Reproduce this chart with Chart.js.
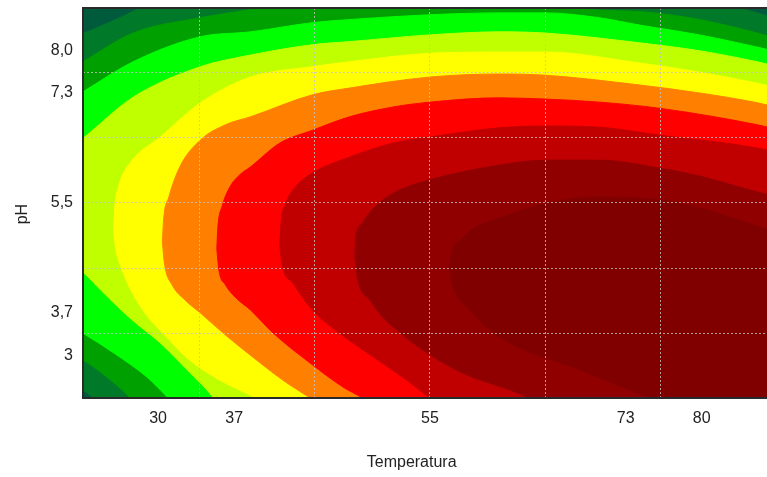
<!DOCTYPE html>
<html lang="pt-BR">
<head>
<meta charset="utf-8">
<title>Temperatura x pH</title>
<script src="https://cdn.jsdelivr.net/npm/chart.js@4.4.1/dist/chart.umd.min.js"></script>
<style>
  html, body { margin: 0; padding: 0; background: #fff; }
  canvas { display: block; }
</style>
</head>
<body>
<canvas id="graficoContorno" width="767" height="477"></canvas>
<script>
// === Superfície de resposta: Temperatura x pH (curvas de nível) ===

// Marcas dos eixos
const ticksTemperatura = [30, 37, 55, 73, 80];
const ticksPH = [3, 3.7, 5.5, 7.3, 8.0];
const rotulosPH = ['3', '3,7', '5,5', '7,3', '8,0'];

// Linhas de grade pontilhadas
const gradeTemperatura = [33.8, 44.4, 55, 65.6, 76.2];
const gradePH = [3.36, 4.43, 5.5, 6.57, 7.64];

// Limites dos eixos
const limitesTemperatura = [23.1, 86.0];
const limitesPH = [2.31, 8.69];

// Contornos: pares [Temperatura, pH]
// Sup = borda de cima da região do nível, Inf = borda de baixo
const nivel1Sup = [[21.9, 8.17], [23.1, 8.27], [25.6, 8.46], [28.3, 8.69], [31.1, 8.99], [55.0, 9.48], [79.8, 8.99], [83.5, 8.69], [85.1, 8.61], [86.3, 8.54]];
const nivel1Inf = [[21.9, 2.52], [23.1, 2.44], [24.0, 2.31], [25.6, 1.95], [86.3, 1.62]];

const nivel2Sup = [[21.9, 7.68], [23.1, 7.81], [27.7, 8.28], [33.9, 8.53], [39.4, 8.69], [43.1, 8.82], [55.0, 9.15], [67.0, 8.82], [68.8, 8.69], [74.3, 8.63], [79.8, 8.50], [85.1, 8.28], [86.3, 8.22]];
const nivel2Inf = [[21.9, 3.01], [23.1, 2.93], [25.3, 2.65], [27.4, 2.32], [28.3, 2.11], [86.3, 1.62]];

const nivel3Sup = [[21.9, 7.19], [23.1, 7.32], [27.7, 7.81], [33.9, 8.22], [38.5, 8.30], [44.2, 8.45], [47.6, 8.50], [55.0, 8.58], [61.4, 8.61], [65.6, 8.61], [70.6, 8.53], [74.3, 8.41], [79.8, 8.25], [85.1, 8.05], [86.3, 8.00]];
const nivel3Inf = [[21.9, 3.50], [23.1, 3.37], [25.9, 3.05], [29.0, 2.65], [30.5, 2.39], [31.1, 2.28], [33.9, 1.95], [86.3, 1.62]];

const nivel4Sup = [[21.9, 6.40], [23.1, 6.56], [27.7, 7.23], [33.9, 7.73], [38.5, 7.92], [44.2, 8.09], [47.6, 8.14], [55.0, 8.25], [61.4, 8.30], [65.6, 8.28], [74.3, 8.12], [79.8, 7.99], [85.1, 7.81], [86.3, 7.76]];
const nivel4Inf = [[21.9, 4.53], [23.1, 4.37], [24.7, 4.08], [27.4, 3.62], [30.2, 3.21], [32.9, 2.73], [34.5, 2.44], [35.1, 2.31], [36.6, 2.03], [86.3, 1.62]];

const nivel5Sup = [[25.9, 5.05], [26.0, 5.40], [26.4, 5.79], [27.4, 6.15], [30.2, 6.58], [33.9, 7.14], [38.5, 7.56], [44.2, 7.73], [47.6, 7.81], [55.0, 7.95], [61.4, 7.97], [65.6, 7.97], [74.3, 7.79], [79.8, 7.64], [85.1, 7.46], [86.3, 7.41]];
const nivel5Inf = [[25.9, 5.05], [26.1, 4.75], [26.6, 4.45], [27.4, 4.11], [28.8, 3.70], [30.6, 3.34], [32.9, 2.93], [35.7, 2.60], [39.0, 2.31], [41.2, 2.08], [86.3, 1.62]];

const nivel6Sup = [[30.4, 4.85], [30.5, 5.20], [31.0, 5.60], [32.0, 6.09], [33.9, 6.53], [36.2, 6.78], [38.5, 6.91], [44.2, 7.27], [47.6, 7.38], [55.0, 7.56], [61.4, 7.61], [65.6, 7.59], [74.3, 7.43], [79.8, 7.30], [85.1, 7.14], [86.3, 7.09]];
const nivel6Inf = [[30.4, 4.85], [30.6, 4.50], [31.3, 4.16], [32.5, 3.91], [33.9, 3.70], [36.2, 3.34], [38.5, 3.01], [41.5, 2.60], [44.0, 2.31], [45.8, 2.11], [86.3, 1.62]];

const nivel7Sup = [[35.4, 4.75], [35.5, 5.10], [35.9, 5.45], [36.6, 5.76], [37.5, 5.96], [38.5, 6.09], [41.2, 6.48], [44.2, 6.69], [47.6, 6.91], [51.6, 7.07], [55.0, 7.15], [61.4, 7.22], [65.6, 7.20], [70.6, 7.15], [76.1, 7.05], [85.1, 6.78], [86.3, 6.73]];
const nivel7Inf = [[35.4, 4.75], [35.6, 4.40], [36.2, 4.16], [37.1, 3.96], [38.5, 3.75], [40.6, 3.37], [44.0, 2.88], [47.0, 2.49], [48.8, 2.31], [50.4, 2.11], [86.3, 1.62]];

const nivel8Sup = [[41.2, 4.80], [41.3, 5.15], [41.7, 5.47], [42.4, 5.71], [44.2, 5.99], [47.6, 6.25], [51.6, 6.48], [55.0, 6.58], [61.4, 6.73], [65.6, 6.76], [70.6, 6.74], [76.1, 6.61], [85.1, 6.40], [86.3, 6.35]];
const nivel8Inf = [[41.2, 4.80], [41.4, 4.50], [42.4, 4.19], [44.2, 3.75], [46.7, 3.37], [49.8, 2.98], [52.9, 2.60], [55.0, 2.31], [56.8, 2.11], [86.3, 1.62]];

const nivel9Sup = [[48.1, 4.65], [48.2, 4.95], [48.7, 5.15], [49.5, 5.35], [50.7, 5.55], [52.2, 5.71], [55.0, 5.88], [61.4, 6.12], [65.6, 6.20], [70.6, 6.20], [76.1, 6.07], [79.8, 5.94], [85.1, 5.68], [86.3, 5.63]];
const nivel9Inf = [[48.1, 4.65], [48.3, 4.32], [49.5, 3.91], [50.7, 3.63], [52.2, 3.39], [54.4, 3.09], [58.0, 2.72], [62.4, 2.44], [64.2, 2.31], [67.0, 2.11], [86.3, 1.62]];

const nivel10Sup = [[56.8, 4.45], [57.0, 4.70], [57.8, 4.89], [59.1, 5.09], [61.4, 5.25], [65.4, 5.48], [70.6, 5.60], [76.1, 5.55], [79.8, 5.42], [85.1, 5.12], [86.3, 5.06]];
const nivel10Inf = [[56.8, 4.45], [57.1, 4.16], [58.4, 3.80], [61.4, 3.31], [68.8, 2.77], [75.2, 2.31], [78.0, 2.11], [86.3, 1.62]];

// Cores: fundo (nível mais baixo) até o nível mais alto
const cores = ['#005a3c', '#007a28', '#00a000', '#00ff00', '#bfff00', '#ffff00',
               '#ff8000', '#ff0000', '#c00000', '#900000', '#800000'];

const contornos = [
  [nivel1Sup, nivel1Inf], [nivel2Sup, nivel2Inf], [nivel3Sup, nivel3Inf],
  [nivel4Sup, nivel4Inf], [nivel5Sup, nivel5Inf], [nivel6Sup, nivel6Inf],
  [nivel7Sup, nivel7Inf], [nivel8Sup, nivel8Inf], [nivel9Sup, nivel9Inf],
  [nivel10Sup, nivel10Inf]
];

const paraPontos = (lista) => lista.map(([x, y]) => ({ x, y }));

// Cada nível: borda de cima preenchida até a borda de baixo (+1)
const datasets = [];
contornos.forEach(([sup, inf], i) => {
  const cor = cores[i + 1];
  const base = {
    borderColor: cor,
    backgroundColor: cor,
    borderWidth: 1,
    pointRadius: 0,
    showLine: true,
    clip: 0,
    cubicInterpolationMode: 'monotone',
    order: 20 - i
  };
  datasets.push({ ...base, data: paraPontos(sup), fill: '+1' });
  datasets.push({ ...base, data: paraPontos(inf), fill: false });
});

const fonte = { family: "'Liberation Sans', Arial, sans-serif", size: 16 };
const corTexto = '#222';
const corGrade = 'rgba(195, 195, 195, 0.8)';

// fundo da área do gráfico e moldura (sem a borda direita, cortada no original)
const moldura = {
  id: 'moldura',
  beforeDatasetsDraw(chart) {
    const { ctx, chartArea: a } = chart;
    ctx.save();
    ctx.fillStyle = cores[0];
    ctx.fillRect(a.left, a.top, a.right - a.left, a.bottom - a.top);
    ctx.restore();
  },
  afterDraw(chart) {
    const { ctx, chartArea: a } = chart;
    ctx.save();
    ctx.strokeStyle = '#2a2a2a';
    ctx.lineWidth = 2;
    ctx.beginPath();
    ctx.moveTo(a.right, a.top);
    ctx.lineTo(a.left, a.top);
    ctx.lineTo(a.left, a.bottom);
    ctx.lineTo(a.right, a.bottom);
    ctx.stroke();
    ctx.restore();
  }
};

const config = {
  type: 'scatter',
  data: { datasets },
  options: {
    responsive: false,
    animation: false,
    events: [],
    layout: { padding: { top: 8, right: 0, bottom: 0, left: 0 } },
    plugins: {
      legend: { display: false },
      tooltip: { enabled: false }
    },
    scales: {
      // grade vertical (sem rótulos), desenhada por cima das cores
      x: {
        type: 'linear',
        min: limitesTemperatura[0],
        max: limitesTemperatura[1],
        afterBuildTicks: (s) => { s.ticks = gradeTemperatura.map(v => ({ value: v })); },
        ticks: { display: false },
        grid: { color: corGrade, lineWidth: 1, drawTicks: false, z: 1 },
        border: { display: false, dash: [2, 2] },
        afterFit: (s) => { s.height = 0; s.paddingLeft = 0; s.paddingRight = 0; }
      },
      // rótulos da temperatura
      xRotulos: {
        type: 'linear',
        axis: 'x',
        position: 'bottom',
        min: limitesTemperatura[0],
        max: limitesTemperatura[1],
        afterBuildTicks: (s) => { s.ticks = ticksTemperatura.map(v => ({ value: v })); },
        ticks: {
          color: corTexto, font: fonte, padding: 11,
          autoSkip: false, maxRotation: 0,
          callback: (v) => String(v)
        },
        grid: { display: false, drawTicks: false },
        border: { display: false },
        title: { display: true, text: 'Temperatura      ', color: corTexto, font: fonte, padding: { top: 0, bottom: 5 } },
        afterFit: (s) => { s.height = 79; s.paddingLeft = 0; s.paddingRight = 0; }
      },
      // grade horizontal (sem rótulos)
      y: {
        type: 'linear',
        min: limitesPH[0],
        max: limitesPH[1],
        afterBuildTicks: (s) => { s.ticks = gradePH.map(v => ({ value: v })); },
        ticks: { display: false },
        grid: { color: corGrade, lineWidth: 1, drawTicks: false, z: 1 },
        border: { display: false, dash: [2, 2] },
        afterFit: (s) => { s.width = 0; s.paddingTop = 0; s.paddingBottom = 0; }
      },
      // rótulos do pH
      yRotulos: {
        type: 'linear',
        axis: 'y',
        position: 'left',
        min: limitesPH[0],
        max: limitesPH[1],
        afterBuildTicks: (s) => { s.ticks = ticksPH.map(v => ({ value: v })); },
        ticks: {
          color: corTexto, font: fonte, padding: 10, autoSkip: false,
          callback: (v) => rotulosPH[ticksPH.indexOf(v)]
        },
        grid: { display: false, drawTicks: false },
        border: { display: false },
        title: { display: true, text: 'pH     ', color: corTexto, font: fonte, padding: { top: 13, bottom: 0 } },
        afterFit: (s) => { s.width = 83; s.paddingTop = 0; s.paddingBottom = 0; }
      }
    }
  },
  plugins: [moldura]
};

// Renderiza o gráfico
const ctx = document.getElementById('graficoContorno');
new Chart(ctx, config);
</script>
</body>
</html>
